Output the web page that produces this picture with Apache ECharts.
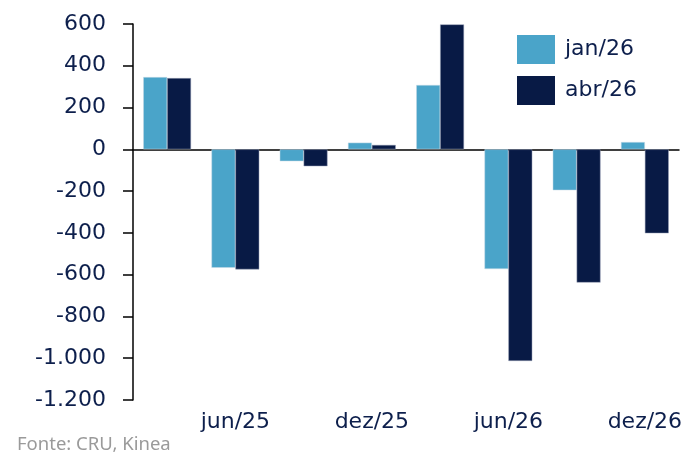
<!DOCTYPE html>
<html><head><meta charset="utf-8">
<script src="https://cdn.jsdelivr.net/npm/echarts@6/dist/echarts.min.js"></script>
<style>html,body{margin:0;padding:0;background:#fff}#c{width:698px;height:459px}</style>
</head><body><div id="c"></div>
<script>
const categories = ['mar/25','jun/25','set/25','dez/25','mar/26','jun/26','set/26','dez/26'];
const seriesNames = ['jan/26','abr/26'];
const janValues = [346, -567, -57, 32, 308, -573, -196, 35];
const abrValues = [341, -575, -81, 21, 598, -1013, -638, -402];
const yTicks = {min: -1200, max: 600, interval: 200};
const sourceText = 'Fonte: CRU, Kinea';

const FONT = 'DejaVu Sans';
const TXT = '#0d1f4c';
const chart = echarts.init(document.getElementById('c'));
chart.setOption({
  animation: false,
  textStyle: {fontFamily: FONT},
  grid: {left: 133, right: 19, top: 24, bottom: 59},
  legend: {
    data: seriesNames, orient: 'vertical', left: 517, top: 35, padding: 0,
    itemWidth: 38, itemHeight: 29, itemGap: 12, icon: 'rect',
    itemStyle: {borderWidth: 0},
    textStyle: {fontFamily: FONT, fontSize: 22, color: TXT, padding: [0,0,0,5]}
  },
  graphic: [{type: 'text', left: 17, top: 435, style: {text: sourceText, fill: '#9a9a9a', font: '18.5px "Noto Sans"'}}],
  xAxis: [{
    type: 'category', data: categories, position: 'bottom',
    axisLine: {show: false, onZero: false}, axisTick: {show: false},
    axisLabel: {interval: (i) => i % 2 === 1, color: TXT, fontSize: 22, fontFamily: FONT, margin: 11}
  }, {
    type: 'category', data: categories, position: 'bottom',
    axisLine: {show: true, onZero: true, lineStyle: {color: '#000', width: 1.5}},
    axisTick: {show: false}, axisLabel: {show: false}
  }],
  yAxis: {
    type: 'value', min: yTicks.min, max: yTicks.max, interval: yTicks.interval,
    splitLine: {show: false},
    axisLine: {show: true, lineStyle: {color: '#000', width: 1.5}},
    axisTick: {show: true, length: 10, lineStyle: {color: '#000', width: 1.5}},
    axisLabel: {color: TXT, fontSize: 22, fontFamily: FONT, margin: 27,
      formatter: v => { const s = Math.abs(v).toString().replace(/\B(?=(\d{3})+(?!\d))/g, '.'); return (v < 0 ? '-' : '') + s; }}
  },
  series: [{
    name: seriesNames[0], type: 'bar', data: janValues, xAxisIndex: 0,
    barGap: '0%', barCategoryGap: '30%',
    itemStyle: {color: '#4aa4c9', borderColor: '#c9dbe6', borderWidth: 0.5}
  }, {
    name: seriesNames[1], type: 'bar', data: abrValues, xAxisIndex: 0,
    itemStyle: {color: '#081a45', borderColor: '#9aa3b8', borderWidth: 0.5}
  }]
});
</script></body></html>
